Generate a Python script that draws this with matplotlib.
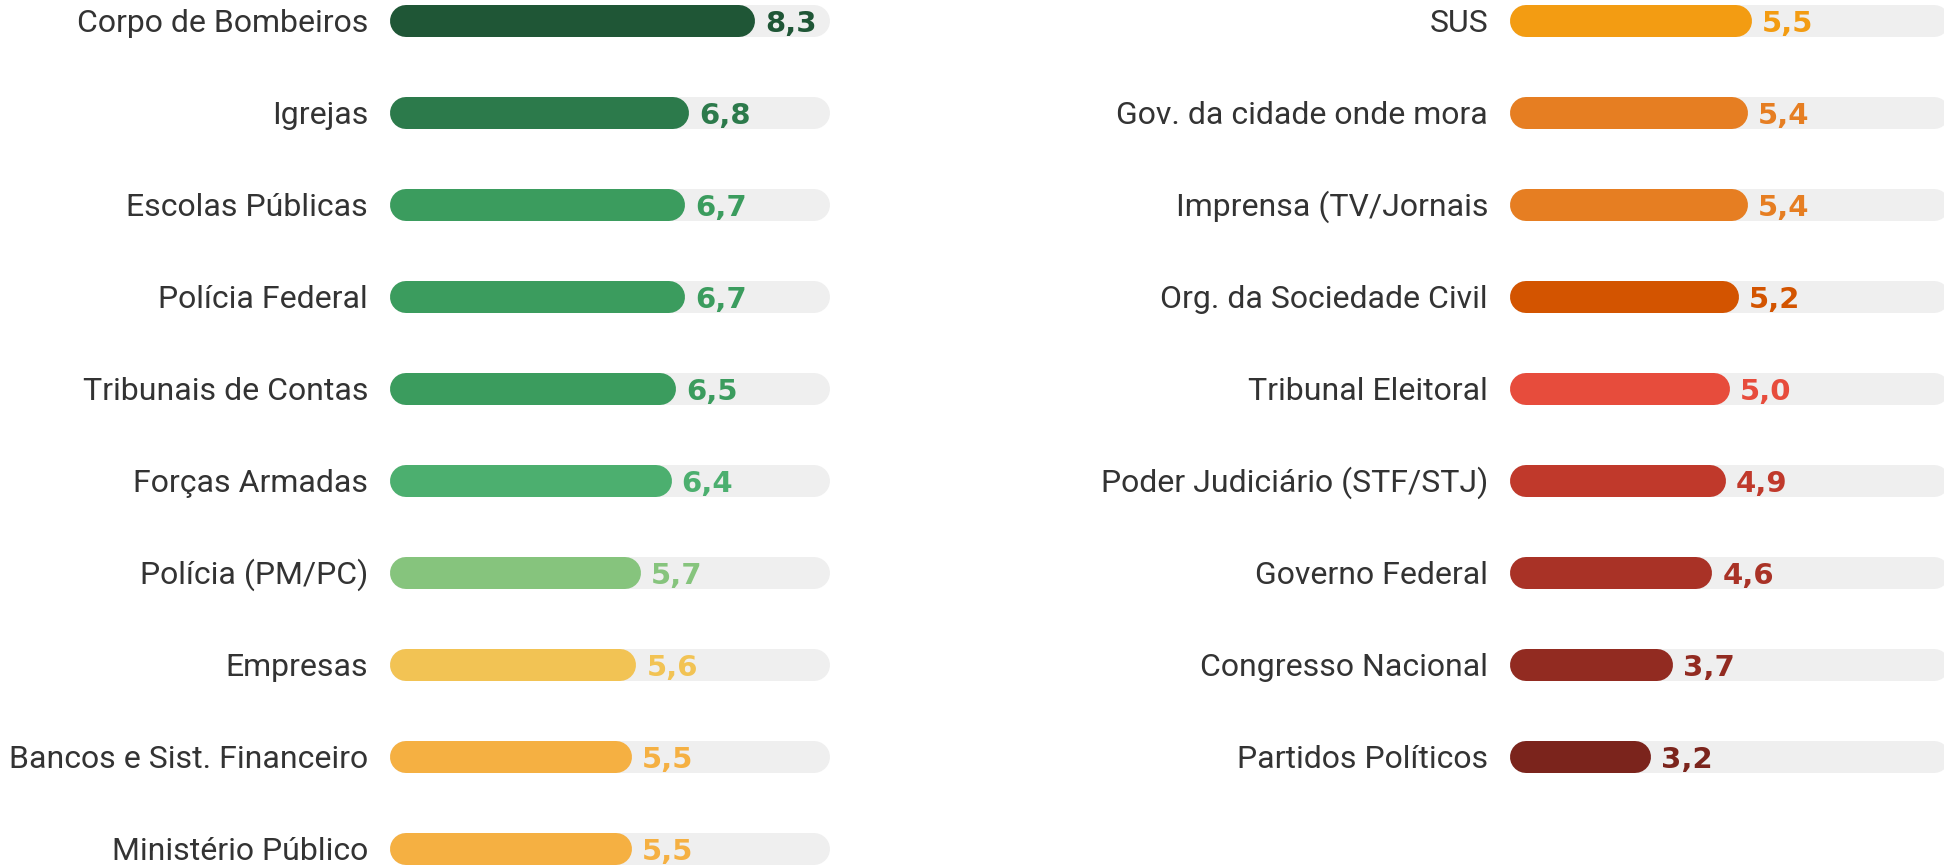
import matplotlib
matplotlib.use("Agg")
import matplotlib.pyplot as plt

# left column
left_labels = ["Corpo de Bombeiros", "Igrejas", "Escolas Públicas", "Polícia Federal",
               "Tribunais de Contas", "Forças Armadas", "Polícia (PM/PC)", "Empresas",
               "Bancos e Sist. Financeiro", "Ministério Público"]
left_values = [8.3, 6.8, 6.7, 6.7, 6.5, 6.4, 5.7, 5.6, 5.5, 5.5]
left_colors = ["#1f5636", "#2c7a4b", "#3b9c5e", "#3b9c5e", "#3b9c5e", "#4caf6f",
               "#86c47d", "#f2c354", "#f5b042", "#f5b042"]

# right column
right_labels = ["SUS", "Gov. da cidade onde mora", "Imprensa (TV/Jornais", "Org. da Sociedade Civil",
                "Tribunal Eleitoral", "Poder Judiciário (STF/STJ)", "Governo Federal",
                "Congresso Nacional", "Partidos Políticos"]
right_values = [5.5, 5.4, 5.4, 5.2, 5.0, 4.9, 4.6, 3.7, 3.2]
right_colors = ["#f39c12", "#e67e22", "#e67e22", "#d35400", "#e74c3c", "#c0392b",
                "#a93226", "#922b21", "#7b241c"]

scale_max = 10
W, H = 1944, 866
px_per_unit = 44.0
row_px = 92.0
bar_px = 32
cap = (bar_px / 2) / px_per_unit   # round cap radius in data units
lw = bar_px * 72 / 100

fig = plt.figure(figsize=(W / 100, H / 100), dpi=100)
fig.patch.set_facecolor("white")


def panel(x0, labels, values, colors):
    ax = fig.add_axes([x0 / W, 0, 440 / W, 1])
    ax.set_xlim(0, scale_max)
    ax.set_ylim((H - 21) / row_px, -21 / row_px)
    ax.axis("off")
    for i, (lab, v, c) in enumerate(zip(labels, values, colors)):
        # grey track + coloured bar, both with round ends
        ax.plot([cap, scale_max - cap], [i, i], color="#efefef", lw=lw,
                solid_capstyle="round", clip_on=False, zorder=1)
        ax.plot([cap, v - cap], [i, i], color=c, lw=lw,
                solid_capstyle="round", clip_on=False, zorder=2)
        ax.text(-22 / px_per_unit, i + 11 / row_px, lab, ha="right", va="baseline",
                fontsize=23, family="Roboto", color="#333333")
        ax.text(v + 10 / px_per_unit, i + 11 / row_px, f"{v:.1f}".replace(".", ","),
                ha="left", va="baseline", fontsize=21, family="DejaVu Sans",
                fontweight="bold", color=c, zorder=3)
    return ax


panel(390, left_labels, left_values, left_colors)
panel(1510, right_labels, right_values, right_colors)

fig.savefig("out.png", dpi=100)
